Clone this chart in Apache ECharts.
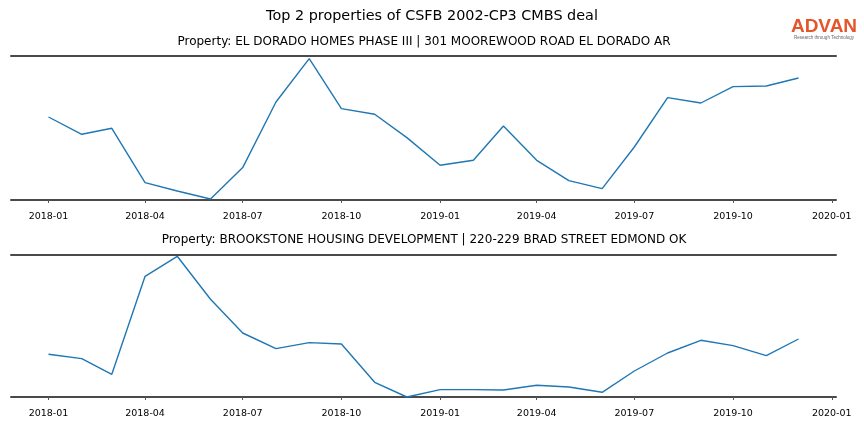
<!DOCTYPE html>
<html><head><meta charset="utf-8">
<script src="https://cdn.jsdelivr.net/npm/echarts@6/dist/echarts.min.js"></script>
<style>html,body{margin:0;padding:0;background:#fff}#c{width:864px;height:432px}</style>
</head><body><div id="c"></div>
<script>
const months = ['2018-01-01','2018-02-01','2018-03-01','2018-04-01','2018-05-01','2018-06-01','2018-07-01','2018-08-01','2018-09-01','2018-10-01','2018-11-01','2018-12-01',
'2019-01-01','2019-02-01','2019-03-01','2019-04-01','2019-05-01','2019-06-01','2019-07-01','2019-08-01','2019-09-01','2019-10-01','2019-11-01','2019-12-01'];
const elDorado = [83, 65.7, 71.7, 17.4, 9, 1, 32.4, 98, 141.4, 91.4, 85.7, 62.4, 34.7, 39.7, 74, 39.7, 19.4, 11.4, 53, 102.4, 97, 113.4, 114, 122];
const brookstone = [42.7, 38.4, 22.7, 120.7, 140.7, 97.7, 64, 48.4, 54.4, 53, 14.7, 0, 7.4, 7.4, 7, 11.7, 10, 4.7, 26, 44, 56.7, 51.4, 41.4, 58];
const tickLabels = ['2018-01','2018-04','2018-07','2018-10','2019-01','2019-04','2019-07','2019-10','2020-01'];
const mainTitle = 'Top 2 properties of CSFB 2002-CP3 CMBS deal';
const sub1 = 'Property: EL DORADO HOMES PHASE III | 301 MOOREWOOD ROAD EL DORADO AR';
const sub2 = 'Property: BROOKSTONE HOUSING DEVELOPMENT | 220-229 BRAD STREET EDMOND OK';

const ts = s => new Date(s + (s.length === 7 ? '-01' : '') + 'T00:00:00Z').getTime();
const tickVals = tickLabels.map(ts);
const first = ts(months[0]), last = ts(months[months.length - 1]);
const pad = (last - first) * 0.05;
const xMin = first - pad;
const xMax = last + pad;
const font = 'DejaVu Sans';
const spine = {show: true, lineStyle: {color: '#4a4a4a', width: 2}};
function fmt(v){const d=new Date(v);return d.getUTCFullYear()+'-'+String(d.getUTCMonth()+1).padStart(2,'0');}
function tickAxis(gi){
  return {type:'value', gridIndex:gi, min:xMin, max:xMax, position:'bottom', offset:6,
    axisLine:{show:false}, splitLine:{show:false},
    axisTick:{show:true, length:3, lineStyle:{color:'#555', width:1}, customValues:tickVals},
    axisLabel:{show:true, customValues:tickVals, formatter:fmt, fontFamily:font, fontSize:9.5, color:'#000', margin:6, hideOverlap:false, showMinLabel:true, showMaxLabel:true}};
}
function lineAxis(gi, pos){
  return {type:'value', gridIndex:gi, min:xMin, max:xMax, position:pos,
    axisLine:spine, axisTick:{show:false}, axisLabel:{show:false}, splitLine:{show:false}};
}
const chart = echarts.init(document.getElementById('c'), null, {renderer:'canvas'});
chart.setOption({
  animation:false,
  grid:[{left:11, right:28, top:56, height:144}, {left:11, right:28, top:255, height:142}],
  xAxis:[tickAxis(0), lineAxis(0,'top'), tickAxis(1), lineAxis(1,'top'), lineAxis(0,'bottom'), lineAxis(1,'bottom')],
  yAxis:[{gridIndex:0, type:'value', min:0, max:144, show:false},
         {gridIndex:1, type:'value', min:0, max:142, show:false}],
  series:[
    {type:'line', xAxisIndex:0, yAxisIndex:0, data:months.map((m,i)=>[ts(m), elDorado[i]]), showSymbol:false, lineStyle:{color:'#1f77b4', width:1.4}, z:1},
    {type:'line', xAxisIndex:2, yAxisIndex:1, data:months.map((m,i)=>[ts(m), brookstone[i]]), showSymbol:false, lineStyle:{color:'#1f77b4', width:1.4}, z:1}
  ],
  graphic:[
    {type:'text', x:432, y:16, style:{text:mainTitle, textAlign:'center', textVerticalAlign:'middle', font:'14.4px "DejaVu Sans"', fill:'#000'}},
    {type:'text', x:424, y:42, style:{text:sub1, textAlign:'center', textVerticalAlign:'middle', font:'12px "DejaVu Sans"', fill:'#000'}},
    {type:'text', x:424, y:240, style:{text:sub2, textAlign:'center', textVerticalAlign:'middle', font:'12px "DejaVu Sans"', fill:'#000'}},
    {type:'text', x:824, y:27, style:{text:'ADVAN', textAlign:'center', textVerticalAlign:'middle', font:'bold 19px "Liberation Sans"', fill:'#e5552a'}},
    {type:'text', x:824, y:38, style:{text:'Research through Technology', textAlign:'center', textVerticalAlign:'middle', font:'4.5px "Liberation Sans"', fill:'#666'}}
  ]
});
</script></body></html>
